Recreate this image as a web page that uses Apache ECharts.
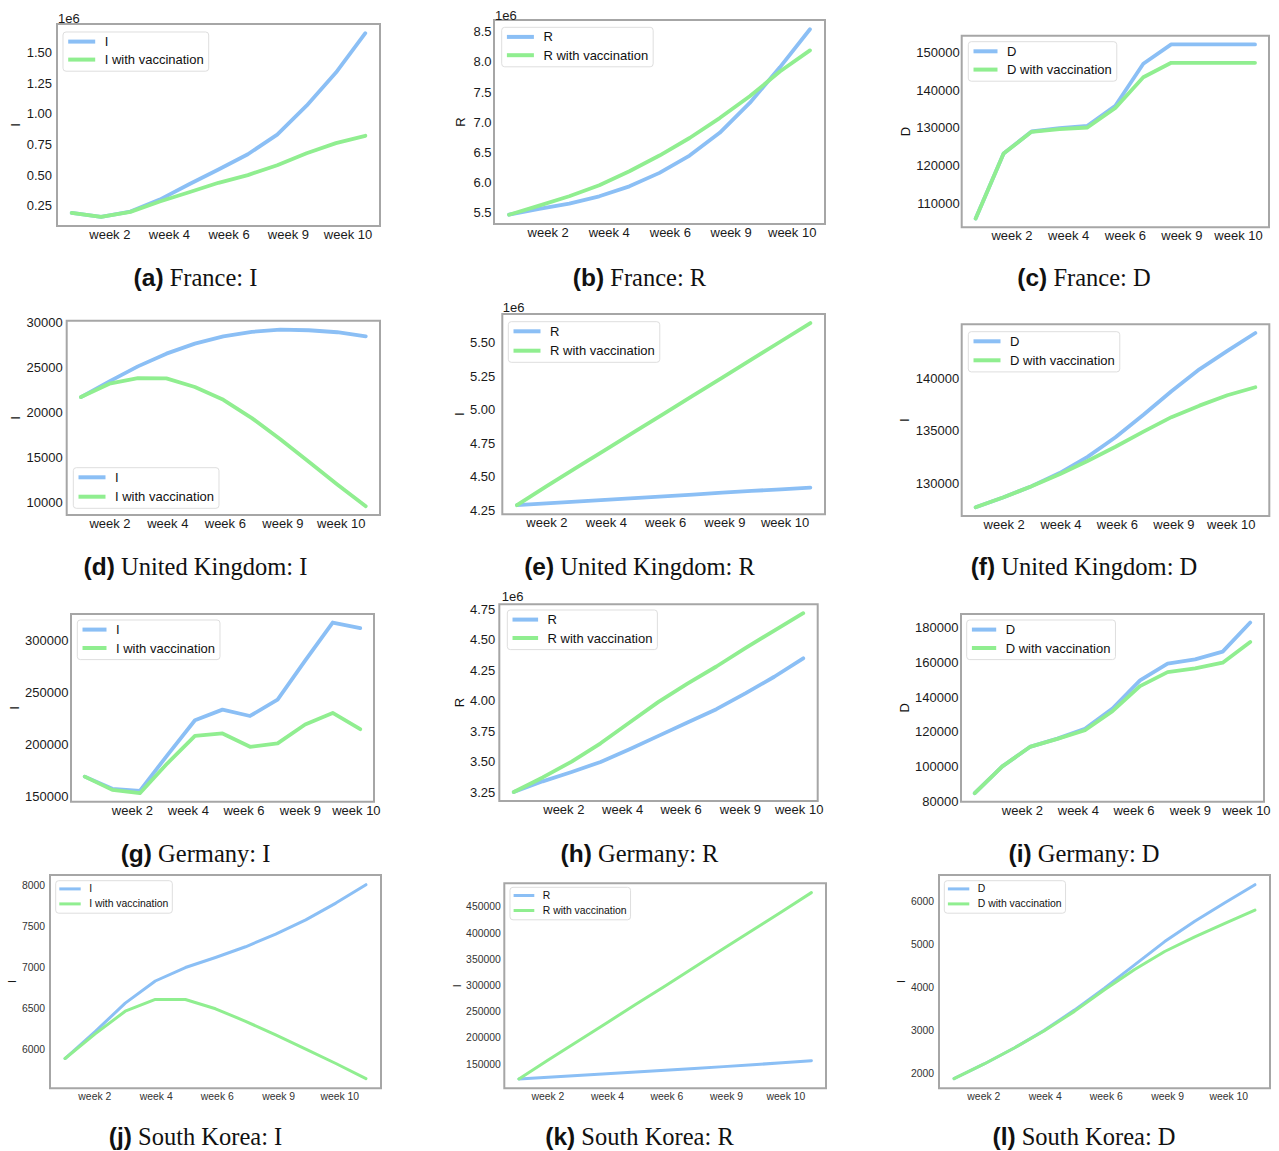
<!DOCTYPE html>
<html><head><meta charset="utf-8">
<script src="https://cdn.jsdelivr.net/npm/echarts@6/dist/echarts.min.js"></script>
<style>html,body{margin:0;padding:0;background:#fff}#c{width:1279px;height:1151px}</style>
</head><body><div id="c"></div>
<script>
// ---- x positions of the 11 weekly observations and tick labels ----
const steps = [0, 1, 2, 3, 4, 5, 6, 7, 8, 9, 10];
const xTickLabels = ['week 2', 'week 4', 'week 6', 'week 9', 'week 10'];
// tick positions (in observation units) as they sit in each row of the figure
const xTickPosRow1 = [1.30, 3.33, 5.36, 7.38, 9.41];
const xTickPosRow2 = [1.02, 3.05, 5.07, 7.09, 9.14];
const xTickPosRow3 = [1.73, 3.76, 5.78, 7.83, 9.86];
const xTickPosRow4 = [0.99, 3.03, 5.06, 7.10, 9.13];

// ---- France ----
const frI      = [192000, 160000, 203000, 300000, 425000, 545000, 670000, 830000, 1065000, 1335000, 1656000];
const frIVac   = [192000, 160000, 200000, 285000, 360000, 437000, 500000, 580000, 678000, 760000, 820000];
const frITicks = [250000, 500000, 750000, 1000000, 1250000, 1500000];
const frR      = [5470000, 5566000, 5654000, 5775000, 5940000, 6163000, 6450000, 6826000, 7320000, 7910000, 8540000];
const frRVac   = [5470000, 5620000, 5775000, 5958000, 6190000, 6450000, 6740000, 7070000, 7430000, 7840000, 8190000];
const frRTicks = [5500000, 6000000, 6500000, 7000000, 7500000, 8000000, 8500000];
const frD      = [106100, 123250, 129070, 129970, 130580, 135880, 146930, 152040, 152040, 152040, 152040];
const frDVac   = [106100, 123250, 128990, 129710, 130130, 135270, 143380, 147190, 147190, 147190, 147190];
const frDTicks = [110000, 120000, 130000, 140000, 150000];

// ---- United Kingdom ----
const ukI      = [21710, 23440, 25110, 26520, 27630, 28440, 28930, 29190, 29110, 28890, 28440];
const ukIVac   = [21710, 23190, 23820, 23780, 22820, 21410, 19380, 17040, 14560, 12040, 9630];
const ukITicks = [10000, 15000, 20000, 25000, 30000];
const ukR      = [4290000, 4303000, 4317000, 4330000, 4343000, 4356000, 4369000, 4383000, 4396000, 4408000, 4420000];
const ukRVac   = [4290000, 4430000, 4565000, 4700000, 4835000, 4970000, 5105000, 5240000, 5375000, 5510000, 5645000];
const ukRTicks = [4250000, 4500000, 4750000, 5000000, 5250000, 5500000];
const ukD      = [127690, 128650, 129710, 130960, 132510, 134380, 136530, 138780, 140870, 142630, 144340];
const ukDVac   = [127690, 128650, 129700, 130840, 132120, 133470, 134920, 136300, 137400, 138390, 139160];
const ukDTicks = [130000, 135000, 140000];

// ---- Germany ----
const deI      = [169070, 157340, 155430, 189750, 223110, 233310, 227220, 242850, 280300, 316830, 311500];
const deIVac   = [169070, 156390, 153200, 181840, 208150, 210440, 197670, 200900, 219000, 230090, 214550];
const deITicks = [150000, 200000, 250000, 300000];
const deR      = [3250000, 3338000, 3415000, 3497000, 3601000, 3711000, 3820000, 3930000, 4059000, 4196000, 4347000];
const deRVac   = [3250000, 3370000, 3500000, 3650000, 3820000, 3990000, 4140000, 4280000, 4430000, 4575000, 4717000];
const deRTicks = [3250000, 3500000, 3750000, 4000000, 4250000, 4500000, 4750000];
const deD      = [84800, 100180, 111370, 116160, 121750, 133460, 149610, 159240, 161720, 166150, 182880];
const deDVac   = [84800, 100180, 111370, 115980, 120950, 131910, 146330, 154400, 156520, 159800, 171690];
const deDTicks = [80000, 100000, 120000, 140000, 160000, 180000];

// ---- South Korea ----
const krI      = [5884, 6213, 6562, 6833, 6998, 7121, 7252, 7408, 7581, 7787, 8012];
const krIVac   = [5884, 6185, 6463, 6607, 6607, 6493, 6340, 6172, 6000, 5823, 5638];
const krITicks = [6000, 6500, 7000, 7500, 8000];
const krR      = [121400, 124600, 127900, 131200, 134600, 138000, 141500, 145000, 148600, 152400, 156300];
const krRVac   = [121400, 157500, 193000, 228500, 264000, 299000, 335000, 370500, 406000, 441500, 477400];
const krRTicks = [150000, 200000, 250000, 300000, 350000, 400000, 450000];
const krD      = [1890, 2230, 2600, 3010, 3480, 3990, 4530, 5070, 5540, 5970, 6390];
const krDVac   = [1890, 2230, 2600, 3000, 3450, 3950, 4420, 4840, 5180, 5490, 5800];
const krDTicks = [2000, 3000, 4000, 5000, 6000];

// ---- panel content ----
const panels = [
  {tag:'(a)', cap:'France: I',         yName:'I', s1:'I', s2:'I with vaccination', d1:frI, d2:frIVac, ticks:frITicks, dec:2},
  {tag:'(b)', cap:'France: R',         yName:'R', s1:'R', s2:'R with vaccination', d1:frR, d2:frRVac, ticks:frRTicks, dec:1},
  {tag:'(c)', cap:'France: D',         yName:'D', s1:'D', s2:'D with vaccination', d1:frD, d2:frDVac, ticks:frDTicks, dec:null},
  {tag:'(d)', cap:'United Kingdom: I', yName:'I', s1:'I', s2:'I with vaccination', d1:ukI, d2:ukIVac, ticks:ukITicks, dec:null},
  {tag:'(e)', cap:'United Kingdom: R', yName:'I', s1:'R', s2:'R with vaccination', d1:ukR, d2:ukRVac, ticks:ukRTicks, dec:2},
  {tag:'(f)', cap:'United Kingdom: D', yName:'I', s1:'D', s2:'D with vaccination', d1:ukD, d2:ukDVac, ticks:ukDTicks, dec:null},
  {tag:'(g)', cap:'Germany: I',        yName:'I', s1:'I', s2:'I with vaccination', d1:deI, d2:deIVac, ticks:deITicks, dec:null},
  {tag:'(h)', cap:'Germany: R',        yName:'R', s1:'R', s2:'R with vaccination', d1:deR, d2:deRVac, ticks:deRTicks, dec:2},
  {tag:'(i)', cap:'Germany: D',        yName:'D', s1:'D', s2:'D with vaccination', d1:deD, d2:deDVac, ticks:deDTicks, dec:null},
  {tag:'(j)', cap:'South Korea: I',    yName:'I', s1:'I', s2:'I with vaccination', d1:krI, d2:krIVac, ticks:krITicks, dec:null},
  {tag:'(k)', cap:'South Korea: R',    yName:'I', s1:'R', s2:'R with vaccination', d1:krR, d2:krRVac, ticks:krRTicks, dec:null},
  {tag:'(l)', cap:'South Korea: D',    yName:'I', s1:'D', s2:'D with vaccination', d1:krD, d2:krDVac, ticks:krDTicks, dec:null}
];
const xTickRows = [xTickPosRow1, xTickPosRow2, xTickPosRow3, xTickPosRow4];

// ---- layout (pixel geometry of each subplot) ----
const layout = [
  {box:[57,24,380,226],      leg:[63,32],      pitch:18,   iw:27, ng:35.5, ym:5,   e6:[58,18.3]},
  {box:[494,20,825,224],     leg:[501.7,27.3], pitch:18.3, iw:27, ng:27.5, ym:2.5, e6:[495,15]},
  {box:[961.7,35.7,1269,227.3], leg:[968.3,41.7], pitch:18.3, iw:24, ng:50, ym:2, e6:null},
  {box:[66.7,320.7,380,515], leg:[73.3,467.7], pitch:19.4, iw:27, ng:45,   ym:4,   e6:null},
  {box:[502.3,314,825,514.3],leg:[508.3,321.7],pitch:19.4, iw:27, ng:35,   ym:7,   e6:[502.7,307.3]},
  {box:[961.7,324.3,1269.3,516], leg:[968.3,331.7], pitch:19, iw:27, ng:51, ym:2.5, e6:null},
  {box:[71,614,374,801.7],   leg:[77.3,620],   pitch:18.4, iw:24, ng:49.5, ym:2.5, e6:null},
  {box:[499.3,604.3,817.7,801], leg:[507.3,610], pitch:18.4, iw:25.6, ng:33, ym:4, e6:[501.7,596.7]},
  {box:[961,614,1264,801.7], leg:[966.7,620],  pitch:18.4, iw:24.3, ng:50, ym:2.5, e6:null},
  {box:[50,875,381,1088.3],  leg:[55.7,880.7], pitch:15,   iw:21.4, ng:31.5, ym:5, e6:null},
  {box:[504.3,883.3,826,1088.3], leg:[510,887.3], pitch:15, iw:20.7, ng:41, ym:3.5, e6:null},
  {box:[939,875,1270,1088.3],leg:[944.3,880.7],pitch:15,   iw:21.4, ng:31,   ym:5,   e6:null}
];
const capX = [195.5, 639.5, 1084];
const capY = [277.5, 566, 853, 1136.7];

const BLUE = '#8bbff5', GREEN = '#90ee90';
const SANS = 'Liberation Sans, Arial, Helvetica, sans-serif';
const SERIF = 'Liberation Serif, Times New Roman, serif';

const grids = [], xAxes = [], yAxes = [], series = [], legends = [], graphics = [];

panels.forEach((p, i) => {
  const L = layout[i];
  const row = Math.floor(i / 3), col = i % 3;
  const small = row === 3;
  const fs = small ? 10.4 : 13;
  const txt = small ? '#333' : '#1a1a1a';
  const [l, t, r, b] = L.box;
  const xPos = xTickRows[row];
  grids.push({left:l, top:t, width:r - l, height:b - t, show:true,
    borderColor:'#a6a6a6', borderWidth:2, backgroundColor:'rgba(0,0,0,0)'});
  xAxes.push({gridIndex:i, type:'value', min:-0.5, max:10.5,
    axisLine:{show:false}, axisTick:{show:false}, splitLine:{show:false},
    axisLabel:{customValues:xPos, hideOverlap:false, margin: small ? 3 : 2,
      fontSize:fs, fontFamily:SANS, color:txt,
      formatter: v => { const k = xPos.indexOf(v); return k >= 0 ? xTickLabels[k] : ''; }}});
  const all = p.d1.concat(p.d2);
  const mn = Math.min(...all), mx = Math.max(...all), pad = (mx - mn) * 0.05;
  yAxes.push({gridIndex:i, type:'value', min:mn - pad, max:mx + pad, scale:true,
    name:p.yName, nameLocation:'middle', nameRotate:90, nameGap:L.ng,
    nameTextStyle:{fontSize:fs, fontFamily:SANS, color:'#111'},
    axisLine:{show:false}, axisTick:{show:false}, splitLine:{show:false},
    axisLabel:{customValues:p.ticks, hideOverlap:false, margin:L.ym, fontSize:fs, fontFamily:SANS, color:txt,
      formatter: v => p.dec != null ? (v / 1e6).toFixed(p.dec) : String(Math.round(v))}});
  const lw = small ? 3 : 3.8;
  series.push({type:'line', name:p.s1, xAxisIndex:i, yAxisIndex:i, color:BLUE,
    data: steps.map((s, k) => [s, p.d1[k]]), showSymbol:false, symbol:'none',
    lineStyle:{width:lw, color:BLUE, cap:'round', join:'round'}, z:2, animation:false, silent:true});
  series.push({type:'line', name:p.s2, xAxisIndex:i, yAxisIndex:i, color:GREEN,
    data: steps.map((s, k) => [s, p.d2[k]]), showSymbol:false, symbol:'none',
    lineStyle:{width:lw, color:GREEN, cap:'round', join:'round'}, z:3, animation:false, silent:true});
  const lh = small ? 12 : 14;
  legends.push({left:L.leg[0], top:L.leg[1], orient:'vertical', data:[p.s1, p.s2],
    icon:'rect', itemWidth:L.iw, itemHeight: small ? 3 : 4, itemGap:L.pitch - lh,
    padding: small ? [2.2, 4, 3.3, 3.6] : [2.6, 5, 4.6, 5.2],
    borderColor:'#dedede', borderWidth:1, borderRadius:3, backgroundColor:'rgba(255,255,255,0.85)',
    selectedMode:false, itemStyle:{borderWidth:0},
    textStyle:{fontSize:fs, fontFamily:SANS, color:'#111', lineHeight:lh, padding:[0,0,0, small ? 3.5 : 4.5]}});
  if (L.e6) {
    graphics.push({type:'text', x:L.e6[0], y:L.e6[1], silent:true,
      style:{text:'1e6', fontSize:fs, fontFamily:SANS, fill:txt, align:'left', verticalAlign:'middle',
             textAlign:'left', textVerticalAlign:'middle'}});
  }
  graphics.push({type:'text', x:capX[col], y:capY[row], silent:true,
    style:{text:'{b|' + p.tag + '}{s| ' + p.cap + '}', align:'center', verticalAlign:'middle',
      textAlign:'center', textVerticalAlign:'middle',
      rich:{b:{fontFamily:SANS, fontWeight:'bold', fontSize:24.5, fill:'#111', color:'#111'},
            s:{fontFamily:SERIF, fontSize:24.5, fill:'#111', color:'#111'}}}});
});

const chart = echarts.init(document.getElementById('c'), null, {renderer:'svg', width:1279, height:1151});
chart.setOption({
  backgroundColor:'#ffffff',
  animation:false,
  grid:grids, xAxis:xAxes, yAxis:yAxes, series:series, legend:legends, graphic:graphics
});
</script>
</body></html>
